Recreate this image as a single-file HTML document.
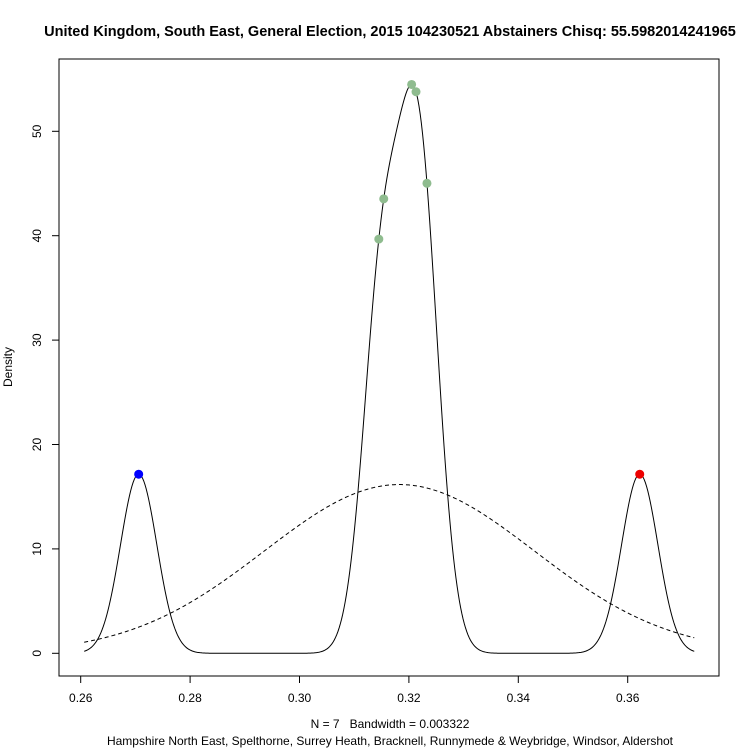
<!DOCTYPE html>
<html><head><meta charset="utf-8"><style>
body{margin:0;background:#fff}
svg{display:block;font-family:"Liberation Sans",sans-serif}
</style></head><body>
<svg id="chart" width="750" height="750">
<text x="390" y="36" text-anchor="middle" font-size="14.5" font-weight="bold">United Kingdom, South East, General Election, 2015 104230521 Abstainers Chisq: 55.5982014241965</text>
<rect x="59" y="59" width="660" height="617" fill="none" stroke="#000"/>
<text x="12" y="367" transform="rotate(-90 12 367)" text-anchor="middle" font-size="12">Density</text>
<text x="390" y="728" text-anchor="middle" font-size="12" xml:space="preserve">N = 7   Bandwidth = 0.003322</text>
<text x="390" y="745" text-anchor="middle" font-size="12">Hampshire North East, Spelthorne, Surrey Heath, Bracknell, Runnymede &amp; Weybridge, Windsor, Aldershot</text>
<g id="axes"></g><g id="marks"></g>
</svg>
<script>
const values=[0.2706,0.3145,0.3154,0.3205,0.3213,0.3233,0.3622];
const pointColors=["#0000ff","#8fbc8f","#8fbc8f","#8fbc8f","#8fbc8f","#8fbc8f","#ee0000"];
const bandwidth=0.003322;
const xTicks=[0.26,0.28,0.30,0.32,0.34,0.36];
const yTicks=[0,10,20,30,40,50];
const NS="http://www.w3.org/2000/svg";
const X=v=>80.7+(v-0.26)*5470;
const Y=d=>653.3-d*10.44;
function mk(t,a,p){const e=document.createElementNS(NS,t);for(const k in a)e.setAttribute(k,a[k]);p.appendChild(e);return e;}
const ax=document.getElementById('axes'),mg=document.getElementById('marks');
const xa=mk('line',{x1:X(xTicks[0]),x2:X(xTicks[xTicks.length-1]),y1:676,y2:676,stroke:'#000'},ax);


xTicks.forEach(t=>{mk('line',{x1:X(t),x2:X(t),y1:676,y2:683,stroke:'#000'},ax);
const l=mk('text',{x:X(t),y:702,'text-anchor':'middle','font-size':12},ax);l.textContent=t.toFixed(2);

});
const ya=mk('line',{x1:59,x2:59,y1:Y(yTicks[0]),y2:Y(yTicks[yTicks.length-1]),stroke:'#000'},ax);


yTicks.forEach(t=>{mk('line',{x1:52,x2:59,y1:Y(t),y2:Y(t),stroke:'#000'},ax);
const l=mk('text',{x:41,y:Y(t),'text-anchor':'middle','font-size':12,transform:`rotate(-90 41 ${Y(t)})`},ax);l.textContent=t;

});
const n=values.length;
const kde=x=>values.reduce((s,v)=>s+Math.exp(-0.5*((x-v)/bandwidth)**2),0)/(n*bandwidth*Math.sqrt(2*Math.PI));
const mean=values.reduce((a,b)=>a+b,0)/n;
const sd=Math.sqrt(values.reduce((s,v)=>s+(v-mean)**2,0)/n);
const norm=x=>Math.exp(-0.5*((x-mean)/sd)**2)/(sd*Math.sqrt(2*Math.PI));
const lo=Math.min(...values)-3*bandwidth,hi=Math.max(...values)+3*bandwidth;
let p1='',p2='';
for(let i=0;i<=512;i++){const x=lo+(hi-lo)*i/512;p1+=(i?'L':'M')+X(x).toFixed(2)+','+Y(kde(x)).toFixed(2);p2+=(i?'L':'M')+X(x).toFixed(2)+','+Y(norm(x)).toFixed(2);}
const c1=mk('path',{d:p1,fill:'none',stroke:'#000'},mg);


const c2=mk('path',{d:p2,fill:'none',stroke:'#000','stroke-dasharray':'4,3'},mg);


values.forEach((v,i)=>{const c=mk('circle',{cx:X(v),cy:Y(kde(v)),r:4.5,fill:pointColors[i]},mg);

});
</script>
</body></html>
